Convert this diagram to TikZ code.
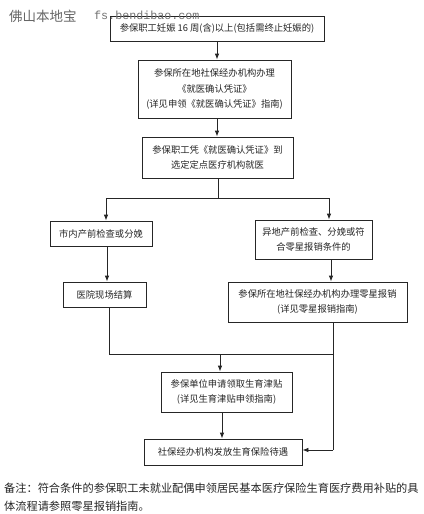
\documentclass[tikz,border=0pt]{standalone}
\usepackage{fontspec}
\setmainfont{Liberation Serif}
\newfontfamily\cjk{Noto Sans CJK SC}
\newfontfamily\wmmono{Liberation Mono}
\usetikzlibrary{arrows.meta}
\begin{document}
\begin{tikzpicture}[x=1pt,y=-1pt,
  box/.style={draw=black!85,line width=0.8pt,align=center,inner sep=1pt,
    font=\cjk\fontsize{9.3}{15.5}\selectfont,text=black!85},
  conn/.style={line width=0.8pt,draw=black!85},
  arr/.style={conn,-{Latex[length=6pt,width=4.5pt]}}]
\useasboundingbox[fill=white] (0,0) rectangle (423,514);
\node[box,minimum width=214pt,minimum height=25pt] (b1) at (217,28.5) {参保职工妊娠 16 周(含)以上(包括需终止妊娠的)};
\node[box,minimum width=153pt,minimum height=58pt] (b2) at (214.5,89) {参保所在地社保经办机构办理\\《就医确认凭证》\\(详见申领《就医确认凭证》指南)};
\node[box,minimum width=151pt,minimum height=41pt] (b3) at (217.5,157.5) {参保职工凭《就医确认凭证》到\\选定定点医疗机构就医};
\node[box,minimum width=102pt,minimum height=25pt] (b4) at (101,233.5) {市内产前检查或分娩};
\node[box,minimum width=117pt,minimum height=39pt] (b5) at (313.5,239.5) {异地产前检查、分娩或符\\合零星报销条件的};
\node[box,minimum width=83pt,minimum height=25pt] (b6) at (104.5,294.5) {医院现场结算};
\node[box,minimum width=179pt,minimum height=40pt] (b7) at (317.5,302) {参保所在地社保经办机构办理零星报销\\(详见零星报销指南)};
\node[box,minimum width=131pt,minimum height=40pt] (b8) at (226.5,392) {参保单位申请领取生育津贴\\(详见生育津贴申领指南)};
\node[box,minimum width=158pt,minimum height=26pt] (b9) at (223,452) {社保经办机构发放生育保险待遇};
% watermark
\node[anchor=west,inner sep=0pt,text=black!60,font=\cjk\fontsize{13.5}{14}\selectfont] (wm1) at (9,16) {佛山本地宝};
\node[anchor=west,inner sep=0pt,text=black!55,font=\wmmono\fontsize{11.7}{12}\selectfont] (wm2) at (94,15) {fs.bendibao.com};
% note
\node[anchor=west,inner sep=0pt,text=black!85,font=\cjk\fontsize{11.2}{14}\selectfont] (n1) at (4,488) {备注：符合条件的参保职工未就业配偶申领居民基本医疗保险生育医疗费用补贴的具};
\node[anchor=west,inner sep=0pt,text=black!85,font=\cjk\fontsize{11.2}{14}\selectfont] (n2) at (4,506) {体流程请参照零星报销指南。};
% connectors
\coordinate (a1) at (217,0);
\draw[arr] (b1.south -| a1) -- (b2.north -| a1);
\draw[arr] (b2.south -| a1) -- (b3.north -| a1);
\coordinate (jL) at (106,198);
\coordinate (jR) at (329,198);
\coordinate (jM) at (218,198);
\draw[conn] (b3.south -| jM) -- (jM);
\draw[conn] (jL) -- (jR);
\draw[arr] (jL) -- (jL |- b4.north);
\draw[arr] (jR) -- (jR |- b5.north);
\coordinate (x6) at (107,0);
\draw[arr] (b4.south -| x6) -- (b6.north -| x6);
\coordinate (x7) at (331,0);
\draw[arr] (b5.south -| x7) -- (b7.north -| x7);
\coordinate (mL) at (109,354);
\coordinate (mR) at (333,354);
\coordinate (mM) at (220,354);
\draw[conn] (b6.south -| mL) -- (mL) -- (mR);
\draw[arr] (mM) -- (b8.north -| mM);
\coordinate (r9) at (333,450);
\draw[conn] (b7.south -| r9) -- (r9);
\draw[arr] (r9) -- (b9.east |- r9);
\coordinate (x8) at (222,0);
\draw[arr] (b8.south -| x8) -- (b9.north -| x8);
\end{tikzpicture}
\end{document}
